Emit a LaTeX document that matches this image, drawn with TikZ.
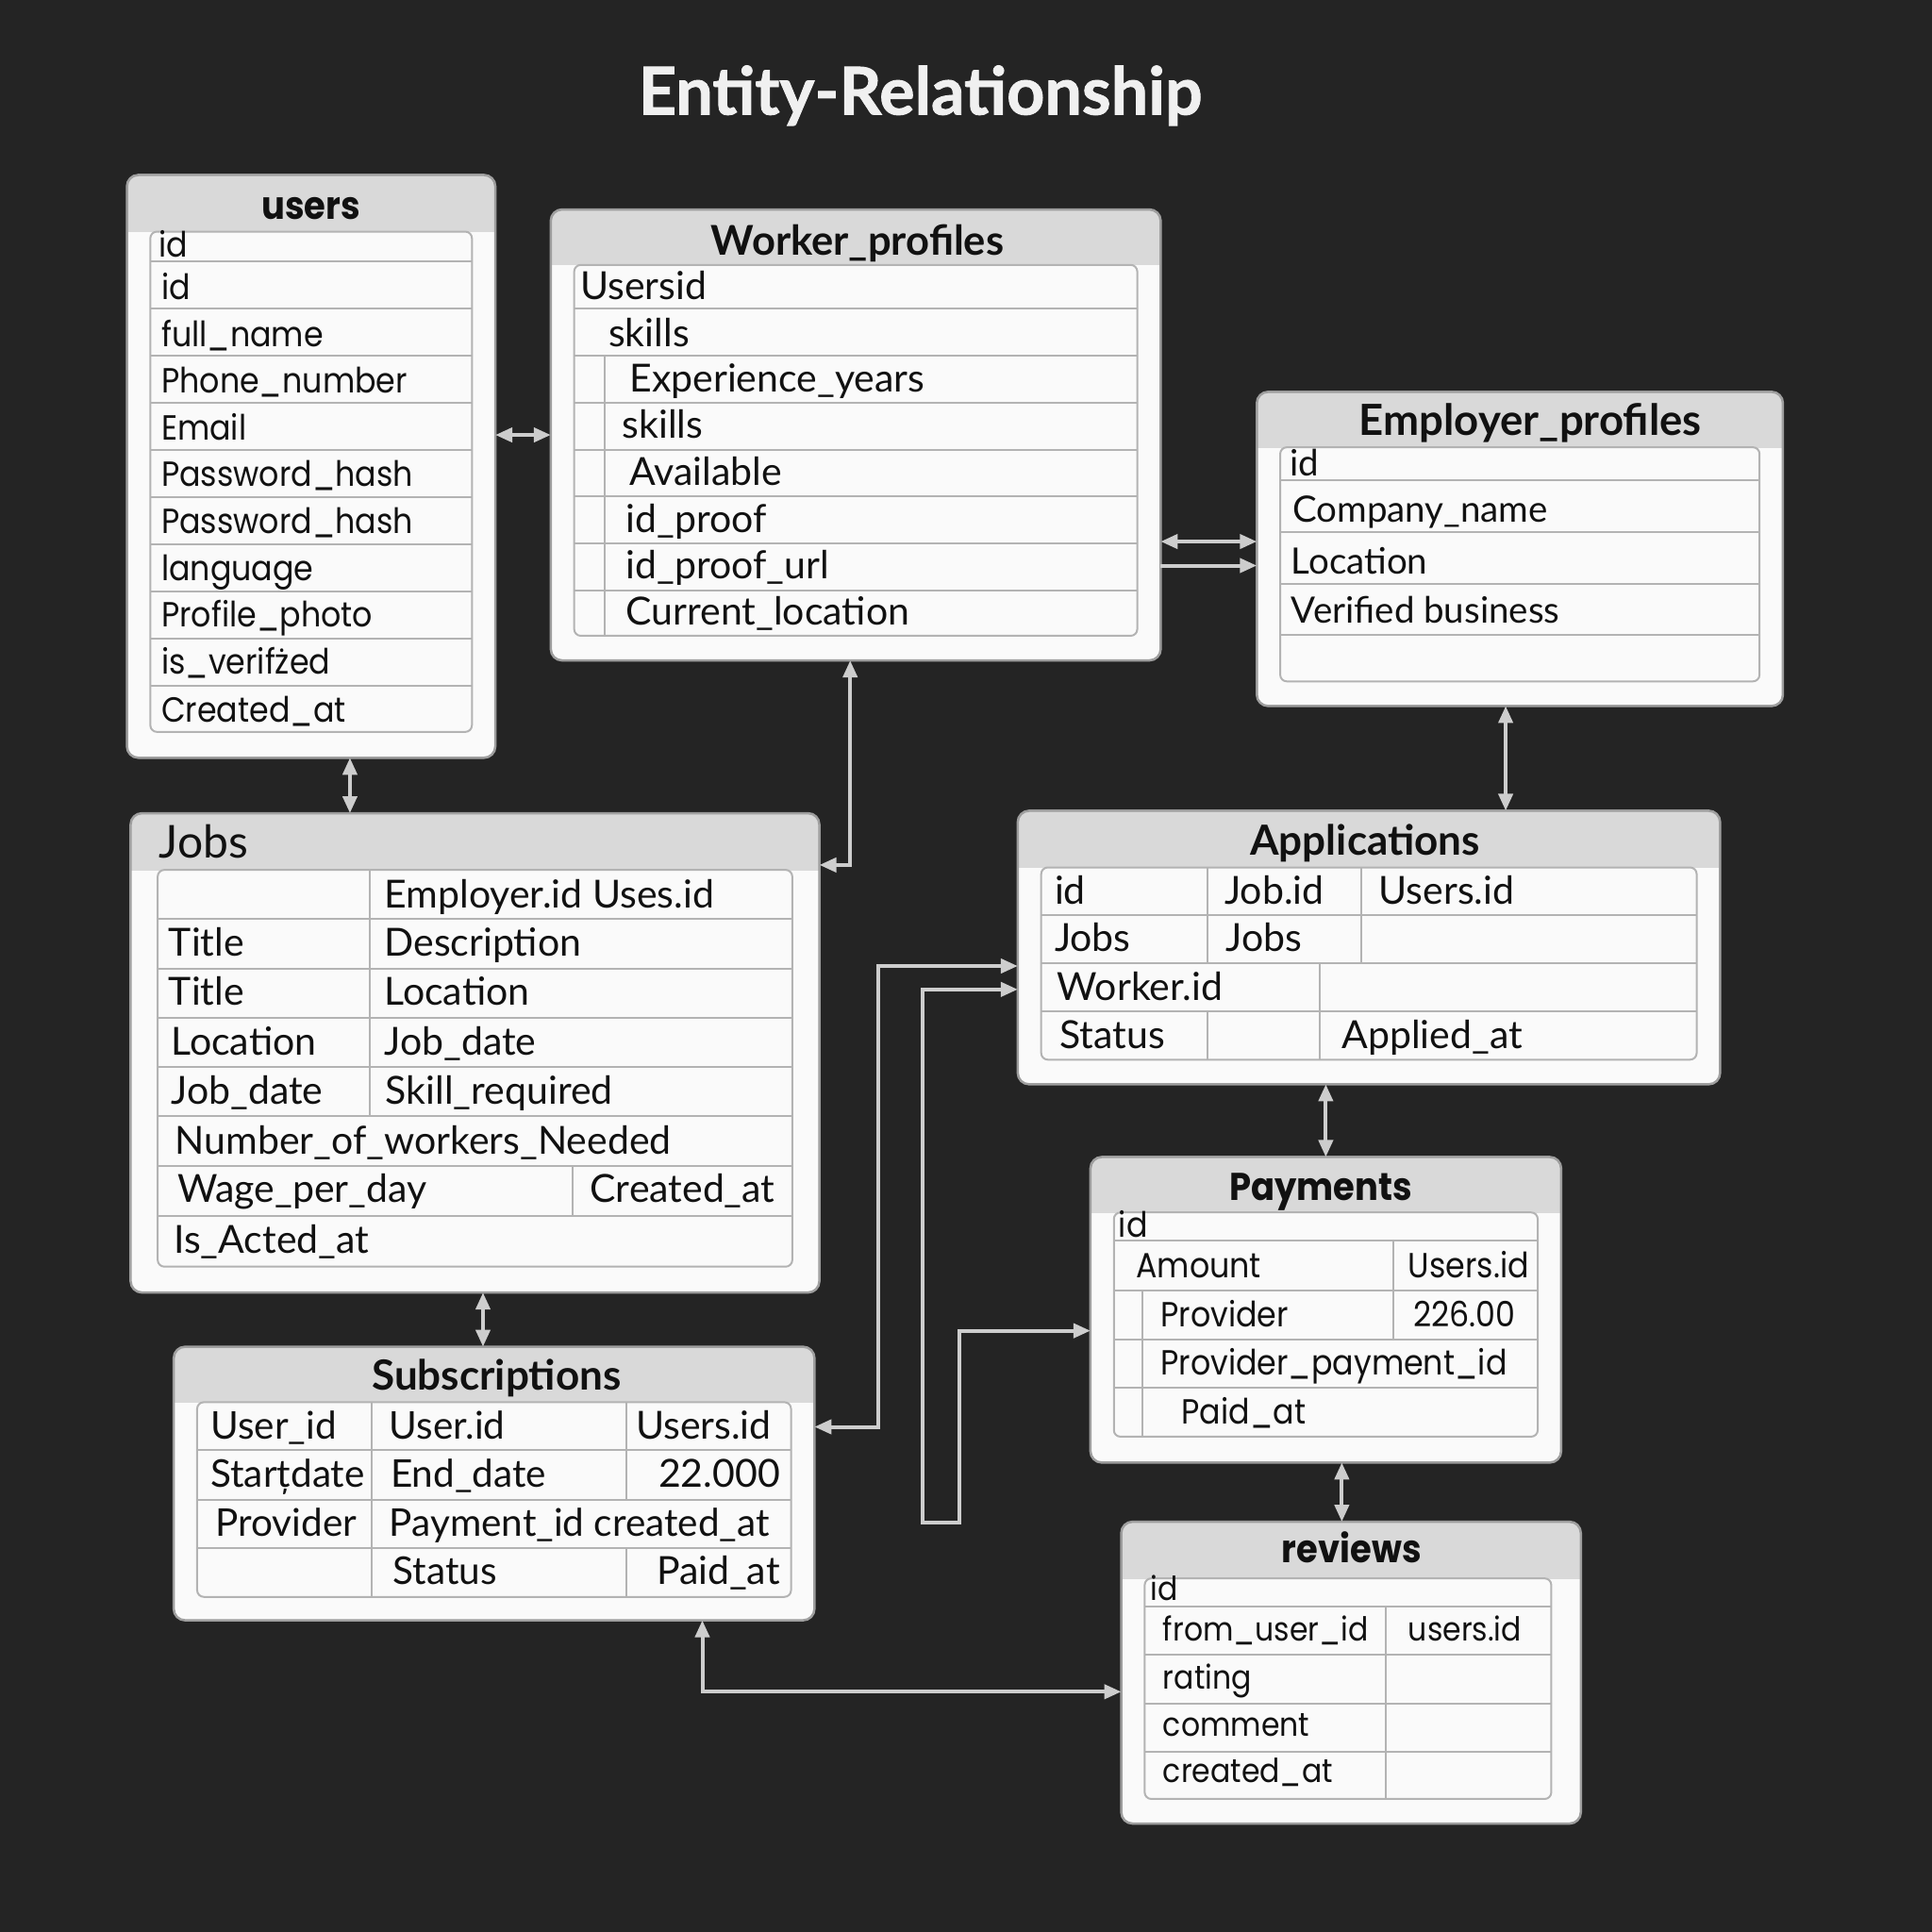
\documentclass[tikz,border=0pt]{standalone}
\usepackage{fontspec}
\setmainfont{Lato}
\newfontfamily\popf{Poppins}[FakeStretch=0.9]
\newfontfamily\heavyf{Lato}[BoldFeatures={FakeBold=1.2}]
\usetikzlibrary{arrows.meta,fit}
\definecolor{bgc}{HTML}{242424}
\definecolor{headc}{HTML}{D9D9D9}
\definecolor{bodyc}{HTML}{FAFAFA}
\definecolor{boxc}{HTML}{9E9E9E}
\definecolor{linec}{HTML}{B3B3B3}
\definecolor{connc}{HTML}{CDCDCD}
\definecolor{txtc}{HTML}{111111}
\tikzset{
  boxline/.style={draw=boxc, line width=2.5pt},
  tabline/.style={draw=linec, line width=2pt},
  conn/.style={draw=connc, line width=4pt, >={Triangle[length=18pt,width=15pt]}},
  cellL/.style={inner sep=0pt, outer sep=0pt, text=txtc, anchor=base west, font=\fontsize{41}{48}\selectfont},
  cellE/.style={cellL, font=\fontsize{38.5}{46}\selectfont},
  cellJ/.style={cellL, font=\fontsize{41}{48}\selectfont},
  cellS/.style={cellL, font=\fontsize{40.5}{48}\selectfont},
  cellP/.style={inner sep=0pt, outer sep=0pt, text=txtc, anchor=base west, font=\popf\fontsize{37}{44}\selectfont},
  cellR/.style={cellP, font=\popf\fontsize{35}{42}\selectfont},
  ttlL/.style={inner sep=0pt, text=txtc, anchor=base, font=\bfseries\fontsize{42}{50}\selectfont},
  ttlP/.style={inner sep=0pt, text=txtc, anchor=base, font=\popf\bfseries\fontsize{41}{48}\selectfont},
}
\newcommand\erbox[6]{%
  \fill[bodyc, rounded corners=12pt] (#2,#3) rectangle (#4,#5);
  \begin{scope}
    \clip (#2-5,#3-5) rectangle (#4+5,#6);
    \fill[headc, rounded corners=12pt] (#2,#3) rectangle (#4,#5);
  \end{scope}
  \draw[boxline, rounded corners=12pt] (#2,#3) rectangle (#4,#5);
  \node[fit={(#2,#3) (#4,#5)}, inner sep=0pt, outer sep=0pt] (#1) {};
}
\newcommand\intab[4]{\draw[tabline, rounded corners=7pt] (#1,#2) rectangle (#3,#4);}
\begin{document}
\begin{tikzpicture}[x=1.3061pt, y=-1.3061pt]
\fill[bgc] (0,0) rectangle (1568,1568);
\useasboundingbox (0,0) rectangle (1568,1568);

\node[inner sep=0pt, anchor=base, text=white!94!black, font=\heavyf\bfseries\fontsize{70}{76}\selectfont] (title) at (747,93) {Entity-Relationship};

% ---------- users ----------
\erbox{users}{103}{142}{402}{615}{188}
\intab{122}{188}{383}{594}
\foreach \y in {212,250.5,289,327,365.5,403.5,442,480,518,556.5} \draw[tabline] (122,\y) -- (383,\y);
\node[ttlP] (usersT) at (252.5,178) {users};
\foreach \x/\y/\t [count=\i] in {129/209/id, 131/243/id, 131/281/full\_name, 131/319/Phone\_number, 131/357/Email, 131/395/Password\_hash, 131/433/Password\_hash, 131/471/language, 131/509/Profile\_photo, 131/547/is\_verifżed, 131/586/Created\_at}
  \node[cellP] (u\i) at (\x,\y) {\t};

% ---------- Worker_profiles ----------
\erbox{worker}{447}{170}{942}{536}{215}
\intab{466}{215}{923}{516}
\foreach \y in {250,289,327,365,403,441,479} \draw[tabline] (466,\y) -- (923,\y);
\draw[tabline] (491,289) -- (491,516);
\node[ttlL, font=\bfseries\fontsize{43.5}{50}\selectfont] (workerT) at (696,207) {Worker\_profiles};
\foreach \x/\y/\t [count=\i] in {471/243/Usersid, 494/281/skills, 511/318/Experience\_years, 505/356/skills, 511/394/Available, 508/432/id\_proof, 508/470/id\_proof\_url, 508/507/Current\_location}
  \node[cellL] (w\i) at (\x,\y) {\t};

% ---------- Employer_profiles ----------
\erbox{employer}{1020}{318}{1447}{573}{363}
\intab{1039}{363}{1428}{553}
\foreach \y in {390,432,474,515} \draw[tabline] (1039,\y) -- (1428,\y);
\node[ttlL, font=\bfseries\fontsize{45.5}{52}\selectfont] (employerT) at (1242,353) {Employer\_profiles};
\foreach \x/\y/\t [count=\i] in {1047/386/id, 1049/424/Company\_name, 1048/466/Location, 1048/506/Verified business}
  \node[cellE] (e\i) at (\x,\y) {\t};

% ---------- Jobs ----------
\erbox{jobs}{106}{660}{665}{1049}{706}
\intab{128}{706}{643}{1028}
\foreach \y in {746,786,826,866,906,946,987} \draw[tabline] (128,\y) -- (643,\y);
\draw[tabline] (300,706) -- (300,906);
\draw[tabline] (465,946) -- (465,987);
\node[inner sep=0pt, text=txtc, anchor=base west, font=\fontsize{48}{54}\selectfont] (jobsT) at (129,696) {Jobs};
\foreach \x/\y/\t [count=\i] in {312/737/Employer.id Uses.id, 137/776/Title, 312/776/Description, 137/816/Title, 312/816/Location, 139/856/Location, 312/856/Job\_date, 139/896/Job\_date, 313/896/Skill\_required, 142/937/Number\_of\_workers\_Needed, 144/976/Wage\_per\_day, 479/976/Created\_at, 141/1017/Is\_Acted\_at}
  \node[cellJ] (j\i) at (\x,\y) {\t};

% ---------- Applications ----------
\erbox{applications}{826}{658}{1396}{880}{704}
\intab{845}{704}{1377}{860}
\foreach \y in {743,782,821} \draw[tabline] (845,\y) -- (1377,\y);
\draw[tabline] (980,704) -- (980,782);
\draw[tabline] (1105,704) -- (1105,782);
\draw[tabline] (1071,782) -- (1071,860);
\draw[tabline] (980,821) -- (980,860);
\node[ttlL, font=\bfseries\fontsize{44}{50}\selectfont] (applicationsT) at (1108,694) {Applications};
\foreach \x/\y/\t [count=\i] in {856/734/id, 994/734/Job.id, 1119/734/Users.id, 856/772/Jobs, 995/772/Jobs, 858/812/Worker.id, 860/851/Status, 1089/851/Applied\_at}
  \node[cellL] (a\i) at (\x,\y) {\t};

% ---------- Subscriptions ----------
\erbox{subs}{141}{1093}{661}{1315}{1138}
\intab{160}{1138}{642}{1296}
\foreach \y in {1177,1217,1256} \draw[tabline] (160,\y) -- (642,\y);
\draw[tabline] (302,1138) -- (302,1296);
\draw[tabline] (508,1138) -- (508,1217);
\draw[tabline] (508,1256) -- (508,1296);
\node[ttlL, font=\bfseries\fontsize{44}{50}\selectfont] (subsT) at (403,1128) {Subscriptions};
\foreach \x/\y/\t [count=\i] in {171/1168/User\_id, 316/1168/User.id, 171/1207/Starțdate, 317/1207/End\_date, 175/1247/Provider, 316/1247/Payment\_id created\_at, 319/1286/Status}
  \node[cellS] (s\i) at (\x,\y) {\t};
\node[cellL, anchor=base east] (s8) at (626,1168) {Users.id};
\node[cellL, anchor=base east] (s9) at (633,1207) {22.000};
\node[cellL, anchor=base east] (s10) at (633,1286) {Paid\_at};

% ---------- Payments ----------
\erbox{payments}{885}{939}{1267}{1187}{984}
\intab{904}{984}{1248}{1166}
\foreach \y in {1007,1047,1087,1126} \draw[tabline] (904,\y) -- (1248,\y);
\draw[tabline] (1131,1007) -- (1131,1087);
\draw[tabline] (927,1047) -- (927,1166);
\node[ttlP] (paymentsT) at (1072,974) {Payments};
\foreach \x/\y/\t [count=\i] in {908/1004/id, 922/1037/Amount, 1143/1037/Users.id, 942/1077/Provider, 1147/1077/226.00, 942/1116/Provider\_payment\_id, 959/1156/Paid\_at}
  \node[cellP] (p\i) at (\x,\y) {\t};

% ---------- reviews ----------
\erbox{reviews}{910}{1235}{1283}{1480}{1281}
\intab{929}{1281}{1259}{1460}
\foreach \y in {1304,1343,1383,1422} \draw[tabline] (929,\y) -- (1259,\y);
\draw[tabline] (1125,1304) -- (1125,1460);
\node[ttlP] (reviewsT) at (1097,1268) {reviews};
\foreach \x/\y/\t [count=\i] in {934/1299/id, 944/1332/from\_user\_id, 1143/1332/users.id, 944/1371/rating, 944/1409/comment, 944/1447/created\_at}
  \node[cellR] (r\i) at (\x,\y) {\t};

% ---------- connectors ----------
\draw[conn, <->] (users.east |- 0,353) -- (worker.west |- 0,353);
\draw[conn, <->] (worker.east |- 0,439.5) -- (employer.west |- 0,439.5);
\draw[conn, ->] (worker.east |- 0,459) -- (employer.west |- 0,459);
\draw[conn, <->] (users.south -| 284,0) -- (jobs.north -| 284,0);
\draw[conn, <->] (worker.south -| 690,0) -- (690,702) -- (jobs.east |- 0,702);
\draw[conn, <->] (employer.south -| 1222,0) -- (applications.north -| 1222,0);
\draw[conn, <->] (jobs.south -| 392,0) -- (subs.north -| 392,0);
\draw[conn, <->] (applications.south -| 1076,0) -- (payments.north -| 1076,0);
\draw[conn, <->] (payments.south -| 1089,0) -- (reviews.north -| 1089,0);
\draw[conn, <->] (subs.east |- 0,1158) -- (713,1158) -- (713,784) -- (applications.west |- 0,784);
\draw[conn, <->] (applications.west |- 0,803) -- (749,803) -- (749,1236) -- (779,1236) -- (779,1080) -- (payments.west |- 0,1080);
\draw[conn, <->] (subs.south -| 570,0) -- (570,1373) -- (reviews.west |- 0,1373);
\end{tikzpicture}
\end{document}
